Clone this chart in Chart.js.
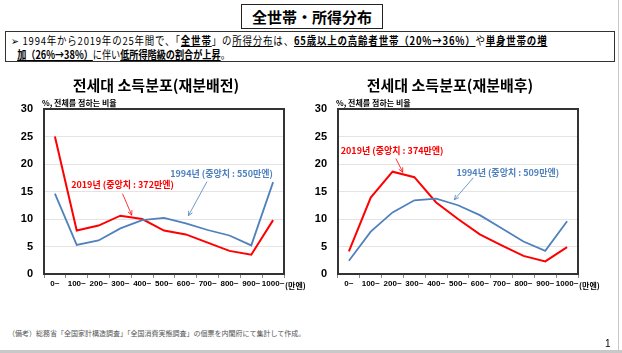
<!DOCTYPE html>
<html>
<head>
<meta charset="utf-8">
<script src="https://cdn.jsdelivr.net/npm/chart.js@4.4.1/dist/chart.umd.min.js"></script>
<style>
  body { margin: 0; background: #fff; font-family: "Noto Sans CJK JP", sans-serif; }
  #page { position: relative; width: 622px; height: 353px; overflow: hidden; background: #fff; }
  #head { position: absolute; left: 241px; top: 4px; width: 140px; height: 23px; border: 1px solid #222;
          font: bold 15px "Noto Sans CJK JP"; text-align: center; line-height: 23px; color: #000; }
  #lead { position: absolute; left: 5px; top: 31px; width: 610px; height: 31px; border: 1px solid #333;
          font: 11px "Noto Sans CJK JP"; color: #000; line-height: 14px; padding: 1px 0 0 5px; box-sizing: border-box; }
  #lead .l { display: block; white-space: nowrap; transform: scaleX(0.86); transform-origin: left; }
  #lead .l1 { letter-spacing: 0.95px; }
  #lead .l2 { transform: scaleX(0.83); }
  #lead b, #lead u { font-weight: bold; }
  #note { position: absolute; left: 8px; top: 328px; font: 7px "Noto Sans CJK JP"; color: #555; white-space: nowrap; }
  #pg { position: absolute; left: 605px; top: 338px; font: 10px "Liberation Sans"; color: #000; }
  #rb { position: absolute; left: 618px; top: 0; width: 1px; height: 353px; background: #c8c8c8; }
  #bb { position: absolute; left: 0; top: 350px; width: 622px; height: 3px; background: #c8c8c8; }
  canvas { position: absolute; }
</style>
</head>
<body>
<div id="page">
  <div id="head">全世帯・所得分布</div>
  <div id="lead">
    <span class="l l1">➢ 1994年から2019年の25年間で、「<u>全世帯</u>」の<u style="font-weight:normal">所得分布</u>は、<u>65歳以上の高齢者世帯（20%→36%）</u>や<u>単身世帯の増</u></span>
    <span class="l l2">&nbsp;&nbsp;&nbsp;<u>加（26%→38%）</u>に伴い<u>低所得階級の割合が上昇</u>。</span>
  </div>
  <canvas id="c1" width="311" height="230" style="left:0;top:70px;width:311px;height:230px"></canvas>
  <canvas id="c2" width="311" height="230" style="left:311px;top:70px;width:311px;height:230px"></canvas>
  <div id="note">（備考）総務省「全国家計構造調査」「全国消費実態調査」の個票を内閣府にて集計して作成。</div>
  <div id="pg">1</div>
  <div id="rb"></div>
  <div id="bb"></div>
</div>
<script>
// income brackets (万円)
var categories = ['0~', '100~', '200~', '300~', '400~', '500~', '600~', '700~', '800~', '900~', '1000~'];
var yTicks = [0, 5, 10, 15, 20, 25, 30];

// before redistribution
var before2019 = [25.0, 7.9, 8.8, 10.6, 10.0, 7.9, 7.2, 5.7, 4.2, 3.5, 9.8];
var before1994 = [14.6, 5.3, 6.1, 8.3, 9.8, 10.2, 9.2, 8.0, 7.0, 5.2, 16.7];

// after redistribution
var after2019 = [4.1, 13.9, 18.6, 17.6, 13.0, 10.0, 7.2, 5.2, 3.3, 2.3, 4.9];
var after1994 = [2.4, 7.7, 11.2, 13.4, 13.7, 12.5, 10.7, 8.3, 5.9, 4.2, 9.6];

var RED = '#ff0000';
var BLUE = '#4f81bd';

// labels: text, colour, label position [index, value], arrow from -> to [index, value]
var notesBefore = [
  { text: '2019년 (중앙치 : 372만엔)', color: RED, at: [3.1, 16.3], from: [3.1, 14.6], to: [3.52, 10.7] },
  { text: '1994년 (중앙치 : 550만엔)', color: BLUE, at: [7.64, 18.2], from: [6.97, 16.8], to: [6.12, 10.6] }
];
var notesAfter = [
  { text: '2019년 (중앙치 : 374만엔)', color: RED, at: [1.98, 22.4], from: [2.15, 21.0], to: [2.47, 18.5] },
  { text: '1994년 (중앙치 : 509만엔)', color: BLUE, at: [7.28, 18.5], from: [5.7, 17.5], to: [4.83, 13.5] }
];

function decor(title, notes) {
  return {
    id: 'decor',
    afterDraw: function (chart) {
      var ctx = chart.ctx, a = chart.chartArea;
      var xs = chart.scales.x, ys = chart.scales.y;
      ctx.save();
      // frame
      ctx.strokeStyle = '#333';
      ctx.lineWidth = 2;
      ctx.strokeRect(a.left, a.top, a.right - a.left, a.bottom - a.top);
      // title
      ctx.fillStyle = '#000';
      ctx.font = 'bold 15px "Noto Sans CJK KR"';
      ctx.textAlign = 'center';
      ctx.textBaseline = 'middle';
      ctx.fillText(title, (a.left + a.right) / 2 - 8, 15);
      // unit
      ctx.font = 'bold 8px "Noto Sans CJK KR"';
      ctx.textAlign = 'left';
      ctx.fillText('%, 전체를 점하는 비율', a.left - 2, a.top - 6);
      // x unit
      ctx.font = 'bold 8px "Noto Sans CJK KR"';
      ctx.fillText('(만엔)', xs.getPixelForValue(10) + 12, a.bottom + 12);
      // notes
      notes.forEach(function (n) {
        ctx.fillStyle = n.color;
        ctx.strokeStyle = n.color;
        ctx.font = 'bold 9px "Noto Sans CJK KR"';
        ctx.textAlign = 'center';
        ctx.fillText(n.text, xs.getPixelForValue(n.at[0]), ys.getPixelForValue(n.at[1]));
        var x1 = xs.getPixelForValue(n.from[0]), y1 = ys.getPixelForValue(n.from[1]);
        var x2 = xs.getPixelForValue(n.to[0]), y2 = ys.getPixelForValue(n.to[1]);
        ctx.lineWidth = 0.8;
        ctx.beginPath();
        ctx.moveTo(x1, y1);
        ctx.lineTo(x2, y2);
        ctx.stroke();
        var ang = Math.atan2(y2 - y1, x2 - x1);
        ctx.beginPath();
        ctx.moveTo(x2 - 5 * Math.cos(ang - 0.45), y2 - 5 * Math.sin(ang - 0.45));
        ctx.lineTo(x2, y2);
        ctx.lineTo(x2 - 5 * Math.cos(ang + 0.45), y2 - 5 * Math.sin(ang + 0.45));
        ctx.stroke();
      });
      ctx.restore();
    }
  };
}

function makeChart(id, title, d2019, d1994, notes, yw, padR) {
  return new Chart(document.getElementById(id), {
    type: 'line',
    data: {
      labels: categories,
      datasets: [
        { label: '1994', data: d1994, borderColor: BLUE, borderWidth: 1.8, pointRadius: 0, tension: 0 },
        { label: '2019', data: d2019, borderColor: RED, borderWidth: 2, pointRadius: 0, tension: 0 }
      ]
    },
    options: {
      responsive: false,
      animation: false,
      layout: { padding: { top: 39, right: padR, left: 0, bottom: 0 } },
      plugins: { legend: { display: false }, tooltip: { enabled: false } },
      scales: {
        x: {
          offset: true,
          grid: { display: true, offset: true, drawOnChartArea: false, tickLength: 4, color: '#888' },
          border: { display: false },
          ticks: { color: '#000', font: { family: 'Liberation Sans', size: 8, weight: 'bold' }, maxRotation: 0, autoSkip: false, padding: 1 },
          afterFit: function (s) { s.height = 26; }
        },
        y: {
          min: 0, max: 30,
          afterBuildTicks: function (s) { s.ticks = yTicks.map(function (v) { return { value: v }; }); },
          grid: { color: '#e4e4e4', drawTicks: false },
          border: { display: false },
          ticks: { color: '#000', font: { family: 'Liberation Sans', size: 11, weight: 'bold' }, padding: 11 },
          afterFit: function (s) { s.width = yw; }
        }
      }
    },
    plugins: [decor(title, notes)]
  });
}

makeChart('c1', '전세대 소득분포(재분배전)', before2019, before1994, notesBefore, 44, 27);
makeChart('c2', '전세대 소득분포(재분배후)', after2019, after1994, notesAfter, 27, 44);
</script>
</body>
</html>
